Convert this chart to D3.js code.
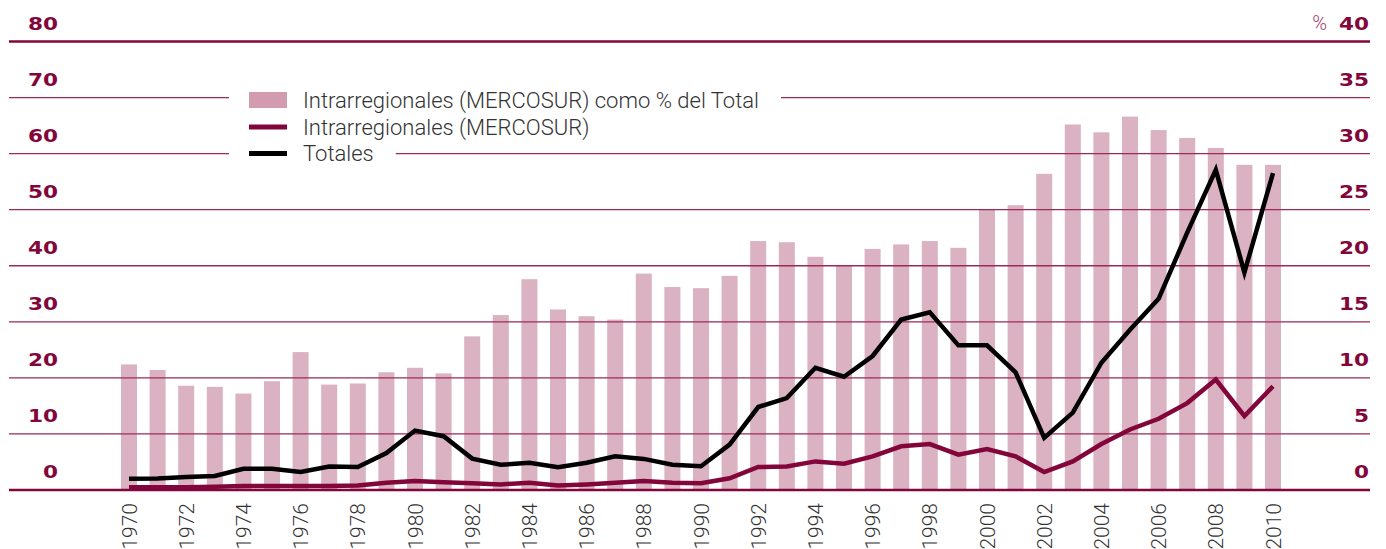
<!DOCTYPE html>
<html>
<head>
<meta charset="utf-8">
<script src="https://cdn.jsdelivr.net/npm/d3@7"></script>
<style>
    body { margin: 0; background: #fff; }
    svg { display: block; }
</style>
</head>
<body>
<div id="wrapper"></div>
<script>
// values
const years = d3.range(1970, 2011)
const shareOfTotal = [11.2, 10.7, 9.3, 9.2, 8.6, 9.7, 12.3, 9.4, 9.5, 10.5,
    10.9, 10.4, 13.7, 15.6, 18.8, 16.1, 15.5, 15.2, 19.3, 18.1,
    18.0, 19.1, 22.2, 22.1, 20.8, 20.0, 21.5, 21.9, 22.2, 21.6,
    25.0, 25.4, 28.2, 32.6, 31.9, 33.3, 32.1, 31.4, 30.5, 29.0, 29.0]
const intraMercosur = [0.5, 0.5, 0.5, 0.6, 0.7, 0.7, 0.7, 0.7, 0.8, 1.3,
    1.6, 1.4, 1.2, 1.0, 1.3, 0.8, 1.0, 1.3, 1.6, 1.3,
    1.2, 2.1, 4.1, 4.2, 5.1, 4.7, 6.0, 7.8, 8.2, 6.3,
    7.3, 6.0, 3.2, 5.1, 8.2, 10.8, 12.7, 15.5, 19.7, 13.2, 18.5]
const totales = [2.0, 2.05, 2.3, 2.5, 3.8, 3.8, 3.2, 4.2, 4.1, 6.6,
    10.6, 9.6, 5.6, 4.5, 4.85, 4.05, 4.85, 6.0, 5.55, 4.5,
    4.25, 8.1, 14.8, 16.4, 21.8, 20.2, 23.9, 30.4, 31.7, 25.8,
    25.8, 21.0, 9.3, 13.8, 22.7, 28.6, 34.1, 45.9, 57.1, 38.8, 56.5]
const leftTicks = [0, 10, 20, 30, 40, 50, 60, 70, 80]
const rightTicks = [0, 5, 10, 15, 20, 25, 30, 35, 40]
const legendLabels = ["Intrarregionales (MERCOSUR) como % del Total",
    "Intrarregionales (MERCOSUR)", "Totales"]

const maroon = "#82063a"
const pink = "#dab2c1"

const width = 1386, height = 549
const gridLeft = 9, gridRight = 1370

const svg = d3.select("#wrapper").append("svg")
    .attr("width", width)
    .attr("height", height)

const xScale = d3.scaleBand()
    .domain(years)
    .range([114.7, 1287.3])
    .paddingInner(0.44)
    .paddingOuter(0.22)
const xMid = d => xScale(d) + xScale.bandwidth() / 2

const yLeft = d3.scaleLinear().domain([0, 80]).range([490, 41.5])
const yRight = d3.scaleLinear().domain([0, 40]).range([490, 41.5])

// bars (right axis, %)
svg.append("g").selectAll("rect")
    .data(years)
    .join("rect")
    .attr("x", d => xScale(d))
    .attr("width", xScale.bandwidth())
    .attr("y", (d, i) => yRight(shareOfTotal[i]))
    .attr("height", (d, i) => yRight(0) - yRight(shareOfTotal[i]))
    .attr("fill", pink)

// gridlines
svg.append("g").selectAll("line")
    .data(leftTicks)
    .join("line")
    .attr("x1", gridLeft)
    .attr("x2", gridRight)
    .attr("y1", d => yLeft(d))
    .attr("y2", d => yLeft(d))
    .attr("stroke", d => (d == 0 || d == 80) ? maroon : "#9a2a58")
    .attr("stroke-width", d => (d == 0 || d == 80) ? 2.4 : 1.3)

// left tick labels
svg.append("g").selectAll("text")
    .data(leftTicks)
    .join("text")
    .attr("transform", d => `translate(58,${yLeft(d) - 12}) scale(1.2,1)`)
    .attr("text-anchor", "end")
    .attr("font-family", "DejaVu Sans")
    .attr("font-weight", "bold")
    .attr("font-size", 18)
    .attr("fill", maroon)
    .text(d => d)

// right tick labels
svg.append("g").selectAll("text")
    .data(rightTicks)
    .join("text")
    .attr("transform", d => `translate(1369,${yRight(d) - 12}) scale(1.2,1)`)
    .attr("text-anchor", "end")
    .attr("font-family", "DejaVu Sans")
    .attr("font-weight", "bold")
    .attr("font-size", 18)
    .attr("fill", maroon)
    .text(d => d)

svg.append("text")
    .attr("x", 1327)
    .attr("y", yRight(40) - 12)
    .attr("text-anchor", "end")
    .attr("font-family", "Roboto")
    .attr("font-weight", 300)
    .attr("font-size", 20)
    .attr("fill", "#a0406a")
    .text("%")

// year labels
svg.append("g").selectAll("text")
    .data(years.filter(d => d % 2 == 0))
    .join("text")
    .attr("transform", d => `translate(${xMid(d) + 7.5},503) rotate(-90)`)
    .attr("text-anchor", "end")
    .attr("font-family", "Roboto")
    .attr("font-weight", 300)
    .attr("font-size", 21)
    .attr("fill", "#333")
    .text(d => d)

// lines (left axis)
const lineGenerator = values => d3.line()
    .x(d => xMid(d))
    .y((d, i) => yLeft(values[i]))(years)

svg.append("path")
    .attr("d", lineGenerator(intraMercosur))
    .attr("fill", "none")
    .attr("stroke", maroon)
    .attr("stroke-width", 4.5)

svg.append("path")
    .attr("d", lineGenerator(totales))
    .attr("fill", "none")
    .attr("stroke", "#000")
    .attr("stroke-width", 4.5)

// legend
const legend = svg.append("g")
const rowY = [100, 127, 153.5]
legendLabels.forEach((label, i) => {
    const row = legend.append("g")
    const bg = row.append("rect").attr("fill", "#fff")
    if (i == 0) {
        row.append("rect")
            .attr("x", 249).attr("y", rowY[i] - 8)
            .attr("width", 38).attr("height", 16)
            .attr("fill", "#d39bb0")
    } else {
        row.append("line")
            .attr("x1", 249).attr("x2", 287)
            .attr("y1", rowY[i]).attr("y2", rowY[i])
            .attr("stroke", i == 1 ? maroon : "#000")
            .attr("stroke-width", 5)
    }
    const txt = row.append("text")
        .attr("x", 303)
        .attr("y", rowY[i] + 7.5)
        .attr("font-family", "Roboto")
        .attr("font-weight", 300)
        .attr("font-size", 22)
        .attr("fill", "#333")
        .text(label)
    const w = txt.node().getComputedTextLength()
    bg.attr("x", 229).attr("y", rowY[i] - 12)
        .attr("width", 303 + w + 22 - 229).attr("height", 24)
})
</script>
</body>
</html>
